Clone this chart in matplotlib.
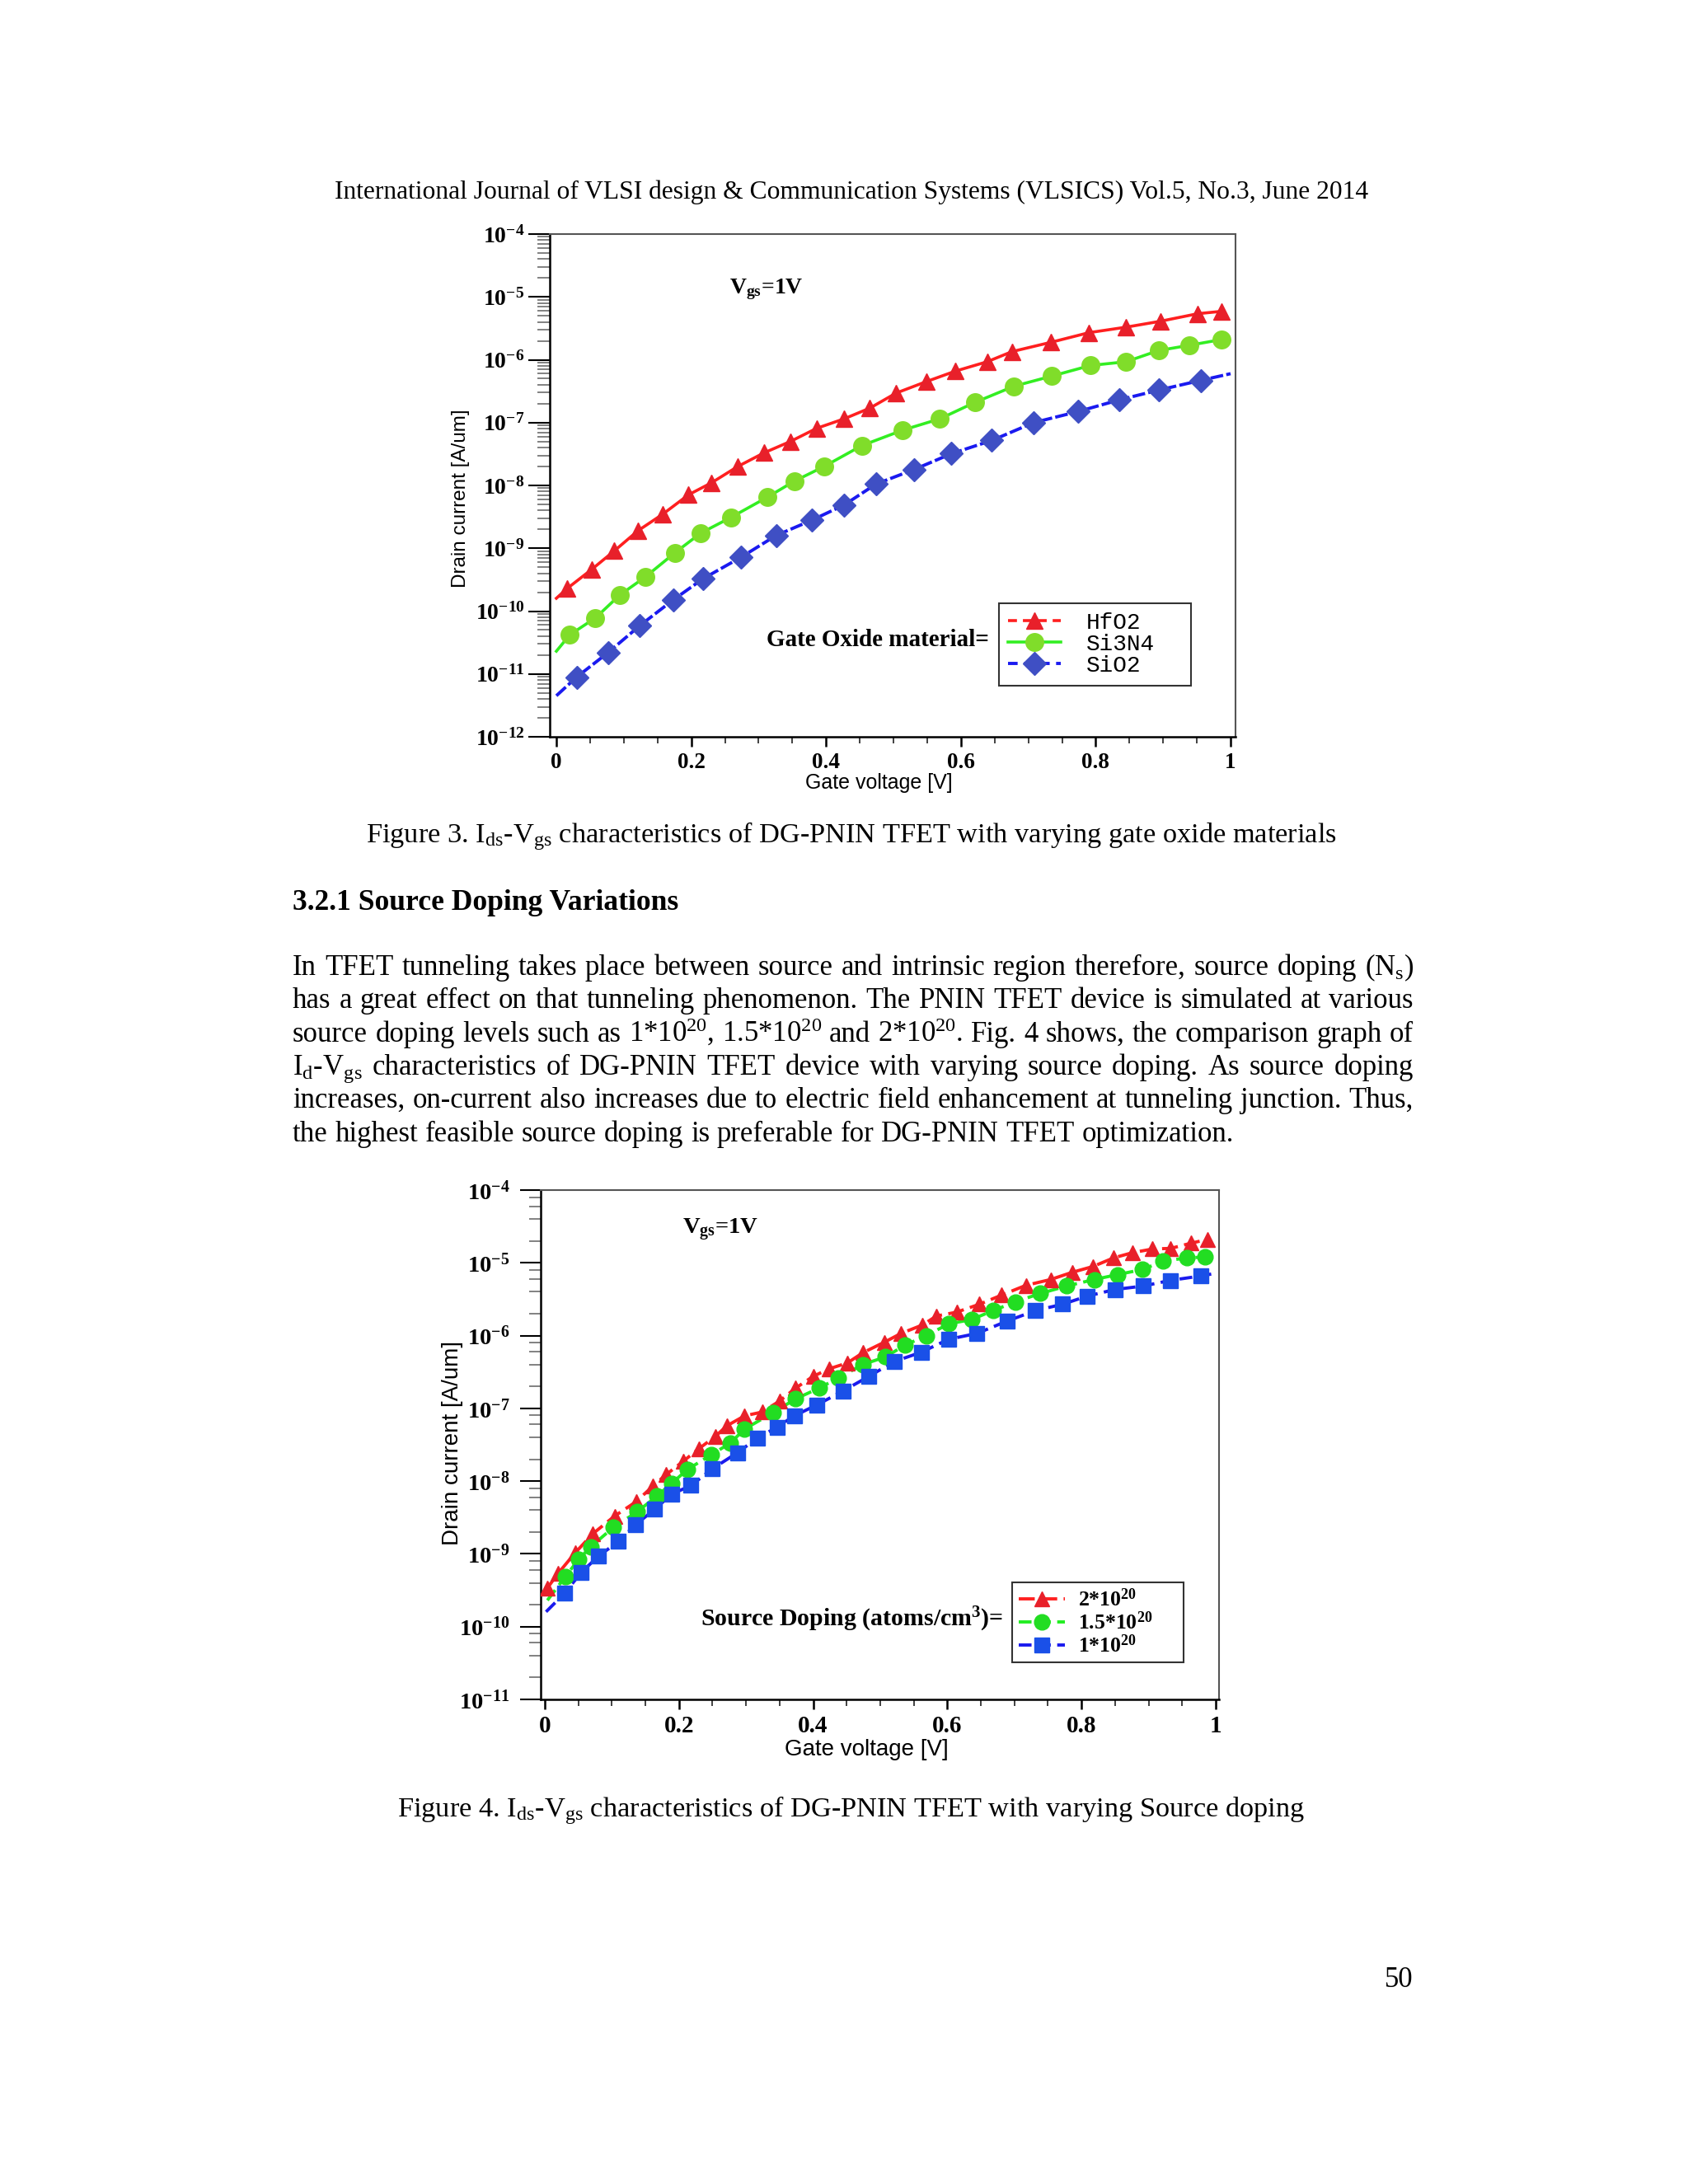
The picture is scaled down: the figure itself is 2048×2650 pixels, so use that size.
import numpy as np
import matplotlib
matplotlib.use('Agg')
import matplotlib.pyplot as plt
from matplotlib.lines import Line2D
from matplotlib.ticker import FixedLocator, FuncFormatter, LogLocator, NullFormatter

# ---------------- data: Figure 3 (gate oxide materials) ----------------
hfo2_vg = [0.016, 0.052, 0.086, 0.121, 0.158, 0.196, 0.230, 0.269, 0.308, 0.347, 0.386, 0.427,
           0.465, 0.504, 0.549, 0.592, 0.639, 0.676, 0.734, 0.790, 0.845, 0.896, 0.951, 0.987]
hfo2_id = [2.29e-10, 4.57e-10, 9.1e-10, 1.9e-9, 3.5e-9, 7.1e-9, 1.1e-8, 2.0e-8, 3.3e-8, 5.0e-8, 8.1e-8, 1.15e-7,
           1.7e-7, 2.95e-7, 4.5e-7, 6.6e-7, 9.3e-7, 1.35e-6, 1.9e-6, 2.7e-6, 3.3e-6, 4.1e-6, 5.4e-6, 5.9e-6]
hfo2_start = (0.0, 1.6e-10)

si3n4_vg = [0.020, 0.058, 0.094, 0.132, 0.176, 0.214, 0.259, 0.313, 0.353, 0.397, 0.453, 0.514,
            0.569, 0.621, 0.679, 0.735, 0.792, 0.845, 0.893, 0.939, 0.987]
si3n4_id = [4.2e-11, 7.8e-11, 1.8e-10, 3.5e-10, 8.5e-10, 1.74e-9, 3.1e-9, 6.5e-9, 1.17e-8, 2.0e-8, 4.3e-8, 7.6e-8,
            1.15e-7, 2.1e-7, 3.8e-7, 5.5e-7, 8.1e-7, 9.3e-7, 1.4e-6, 1.7e-6, 2.1e-6]
si3n4_start = (0.0, 2.3e-11)

sio2_vg = [0.030, 0.077, 0.124, 0.173, 0.218, 0.274, 0.326, 0.379, 0.427, 0.474, 0.531, 0.586,
           0.646, 0.708, 0.774, 0.835, 0.894, 0.956]
sio2_id = [8.9e-12, 2.2e-11, 5.9e-11, 1.5e-10, 3.3e-10, 7.2e-10, 1.6e-9, 2.8e-9, 4.9e-9, 1.05e-8, 1.8e-8, 3.2e-8,
           5.2e-8, 1.0e-7, 1.5e-7, 2.3e-7, 3.3e-7, 4.7e-7]
sio2_start = (0.0, 4.5e-12)
sio2_end = (1.0, 6.0e-7)

oxide_labels = ['HfO2', 'Si3N4', 'SiO2']

# ---------------- data: Figure 4 (source doping) ----------------
d2_vg = [0.004, 0.020, 0.046, 0.072, 0.104, 0.136, 0.161, 0.181, 0.206, 0.230, 0.254, 0.272, 0.298,
         0.324, 0.350, 0.374, 0.400, 0.424, 0.451, 0.474, 0.506, 0.531, 0.563, 0.584, 0.614, 0.648,
         0.681, 0.717, 0.754, 0.786, 0.817, 0.848, 0.876, 0.906, 0.933, 0.963, 0.988]
d2_id = [3.4e-10, 5.4e-10, 1.05e-9, 1.9e-9, 3.3e-9, 5.2e-9, 8.5e-9, 1.23e-8, 1.86e-8, 2.8e-8, 4.1e-8, 5.8e-8, 7.9e-8,
         8.9e-8, 1.26e-7, 1.9e-7, 2.75e-7, 3.5e-7, 4.2e-7, 5.8e-7, 8.1e-7, 1.07e-6, 1.4e-6, 1.86e-6, 2.1e-6, 2.7e-6,
         3.6e-6, 4.9e-6, 5.9e-6, 7.4e-6, 8.9e-6, 1.17e-5, 1.38e-5, 1.55e-5, 1.58e-5, 1.86e-5, 2.1e-5]

d15_vg = [0.031, 0.051, 0.069, 0.102, 0.138, 0.167, 0.189, 0.213, 0.248, 0.276, 0.298, 0.340, 0.374,
          0.409, 0.437, 0.474, 0.508, 0.537, 0.569, 0.602, 0.636, 0.668, 0.701, 0.739, 0.778, 0.819,
          0.854, 0.891, 0.921, 0.957, 0.984]
d15_id = [4.9e-10, 8.5e-10, 1.26e-9, 2.3e-9, 3.8e-9, 6.2e-9, 9.3e-9, 1.45e-8, 2.3e-8, 3.3e-8, 5.2e-8, 8.7e-8, 1.35e-7,
          1.9e-7, 2.6e-7, 4.0e-7, 5.1e-7, 7.4e-7, 1.0e-6, 1.45e-6, 1.66e-6, 2.2e-6, 2.9e-6, 3.8e-6, 4.8e-6, 5.9e-6,
          6.9e-6, 8.1e-6, 1.05e-5, 1.17e-5, 1.2e-5]
d15_start = (0.004, 2.3e-10)

d1_vg = [0.030, 0.054, 0.080, 0.110, 0.135, 0.164, 0.189, 0.218, 0.250, 0.287, 0.317, 0.346, 0.372,
         0.406, 0.445, 0.483, 0.521, 0.561, 0.602, 0.644, 0.689, 0.731, 0.772, 0.809, 0.850, 0.892,
         0.933, 0.978]
d1_id = [2.9e-10, 5.5e-10, 9.3e-10, 1.48e-9, 2.5e-9, 4.1e-9, 6.6e-9, 8.7e-9, 1.48e-8, 2.45e-8, 3.9e-8, 5.5e-8, 7.9e-8,
         1.12e-7, 1.74e-7, 2.75e-7, 4.4e-7, 5.9e-7, 8.9e-7, 1.07e-6, 1.58e-6, 2.2e-6, 2.7e-6, 3.5e-6, 4.3e-6, 4.8e-6,
         5.75e-6, 6.6e-6]
d1_start = (0.002, 1.6e-10)
d1_end = (1.0, 7.2e-6)

doping_labels = [r'2*10$^\mathbf{20}$', r'1.5*10$^\mathbf{20}$', r'1*10$^\mathbf{20}$']

x_major = [0, 0.2, 0.4, 0.6, 0.8, 1.0]

# ---------------- page text ----------------
header = "International Journal of VLSI design & Communication Systems (VLSICS) Vol.5, No.3, June 2014"
caption3 = r"Figure 3. I$_\mathrm{ds}$-V$_\mathrm{gs}$ characteristics of DG-PNIN TFET with varying gate oxide materials"
heading = "3.2.1 Source Doping Variations"
para = [
    r"In TFET tunneling takes place between source and intrinsic region therefore, source doping (N$_\mathrm{s}$)",
    r"has a great effect on that tunneling phenomenon. The PNIN TFET device is simulated at various",
    r"source doping levels such as 1*10$^\mathrm{20}$, 1.5*10$^\mathrm{20}$ and 2*10$^\mathrm{20}$. Fig. 4 shows, the comparison graph of",
    r"I$_\mathrm{d}$-V$_\mathrm{gs}$ characteristics of DG-PNIN TFET device with varying source doping. As source doping",
    r"increases, on-current also increases due to electric field enhancement at tunneling junction. Thus,",
    r"the highest feasible source doping is preferable for DG-PNIN TFET optimization.",
]
caption4 = r"Figure 4. I$_\mathrm{ds}$-V$_\mathrm{gs}$ characteristics of DG-PNIN TFET with varying Source doping"
page_no = "50"

# ---------------- setup ----------------
W, H = 2048, 2650
plt.rcParams['font.family'] = ['Liberation Serif', 'DejaVu Serif']
plt.rcParams['mathtext.fontset'] = 'custom'
plt.rcParams['mathtext.rm'] = 'Liberation Serif'
plt.rcParams['mathtext.it'] = 'Liberation Serif:italic'
plt.rcParams['mathtext.bf'] = 'Liberation Serif:bold'

fig = plt.figure(figsize=(W / 100, H / 100), dpi=100, facecolor='white')
renderer = fig.canvas.get_renderer()


def fx(x):
    return x / W


def fy(y):
    return 1 - y / H


def axbox(x0, y0, x1, y1):
    return [x0 / W, 1 - y1 / H, (x1 - x0) / W, (y1 - y0) / H]


def twidth(s, **kw):
    t = fig.text(0, 0, s, **kw)
    w = t.get_window_extent(renderer).width
    t.remove()
    return w


def fit_size(s, target, **kw):
    return 20 * target / twidth(s, fontsize=20, **kw)


def center_line(s, xc, ybase, target, **kw):
    fs = fit_size(s, target, **kw)
    fig.text(fx(xc), fy(ybase), s, ha='center', va='baseline', fontsize=fs, **kw)
    return fs


def justified(line, x0, x1, ybase, justify, fs, **kw):
    words = line.split(' ')
    widths = [twidth(w, fontsize=fs, **kw) for w in words]
    if justify and len(words) > 1:
        gap = (x1 - x0 - sum(widths)) / (len(words) - 1)
    else:
        gap = 0.25 * fs * 100 / 72
    x = x0
    for w, wd in zip(words, widths):
        fig.text(fx(x), fy(ybase), w, ha='left', va='baseline', fontsize=fs, **kw)
        x += wd + gap


# page text
center_line(header, 1033, 241, 1256)
center_line(caption3, 1033, 1022, 1178)
hs = fit_size(heading, 467, fontweight='bold')
fig.text(fx(355), fy(1104), heading, ha='left', va='baseline', fontsize=hs, fontweight='bold')
body_fs = fit_size(para[-1], 1138)
bases = [1183, 1223, 1264, 1304, 1344, 1385]
for i, (ln, yb) in enumerate(zip(para, bases)):
    justified(ln, 355, 1715, yb, i < len(para) - 1, body_fs)
center_line(caption4, 1033, 2204, 1100)
fig.text(fx(1715), fy(2411), page_no, ha='right', va='baseline', fontsize=body_fs)


def style_axes(ax, xlim, ylim, decades, yfs, xfs, ymaj, ymin, ypad, xmaj, xmin, xpad, subs):
    ax.set_yscale('log')
    ax.set_xlim(*xlim)
    ax.set_ylim(*ylim)
    ax.yaxis.set_major_locator(FixedLocator(decades))
    ax.yaxis.set_major_formatter(FuncFormatter(lambda v, p: r'$\mathbf{10^{%d}}$' % int(round(np.log10(v)))))
    ax.yaxis.set_minor_locator(LogLocator(base=10, subs=subs, numticks=30))
    ax.yaxis.set_minor_formatter(NullFormatter())
    ax.xaxis.set_major_locator(FixedLocator(x_major))
    ax.xaxis.set_major_formatter(FuncFormatter(lambda v, p: '0' if abs(v) < 1e-9 else ('1' if abs(v - 1) < 1e-9 else '%.1f' % v)))
    ax.xaxis.set_minor_locator(FixedLocator(np.arange(0, 1.0001, 0.05)))
    ax.tick_params(axis='y', which='major', direction='out', length=ymaj, width=1.5, pad=ypad, labelsize=yfs, color='black')
    ax.tick_params(axis='y', which='minor', direction='out', length=ymin, width=1.3, color='#777777')
    ax.tick_params(axis='x', which='major', direction='out', length=xmaj, width=1.8, pad=xpad, labelsize=xfs, color='black')
    ax.tick_params(axis='x', which='minor', direction='out', length=xmin, width=1.3, color='#333333')
    for lab in ax.get_xticklabels():
        lab.set_fontweight('bold')
    ax.tick_params(right=False, top=False)
    for s in ['left', 'bottom']:
        ax.spines[s].set_color('black')
        ax.spines[s].set_linewidth(1.8)
    for s in ['top', 'right']:
        ax.spines[s].set_color('#555555')
        ax.spines[s].set_linewidth(1.5)


# ---------------- Figure 3 chart ----------------
ax1 = fig.add_axes(axbox(667, 284, 1499, 894))
style_axes(ax1, (-0.0098, 1.0073), (1e-12, 1e-4), [10.0 ** k for k in range(-12, -3)],
           20, 19.5, 19, 10.5, 3, 8.5, 6, 5, np.arange(2, 10))

c_red_l, c_red_m = '#ff1f1f', '#e8202a'
c_grn_l, c_grn_m = '#33ee22', '#80dd2a'
c_blu_l, c_blu_m = '#1a1af0', '#3f4fc4'
ms_tri1, ms_cir1, ms_dia1 = 15, 15.5, 14

ax1.plot(np.r_[hfo2_start[0], hfo2_vg], np.r_[hfo2_start[1], hfo2_id], color=c_red_l, lw=2.6, zorder=2)
ax1.plot(hfo2_vg, hfo2_id, ls='none', marker='^', ms=ms_tri1, color=c_red_m, zorder=3)
ax1.plot(np.r_[si3n4_start[0], si3n4_vg], np.r_[si3n4_start[1], si3n4_id], color=c_grn_l, lw=2.6, zorder=2)
ax1.plot(si3n4_vg, si3n4_id, ls='none', marker='o', ms=ms_cir1, color=c_grn_m, zorder=3)
ax1.plot(np.r_[sio2_start[0], sio2_vg, sio2_end[0]], np.r_[sio2_start[1], sio2_id, sio2_end[1]],
         color=c_blu_l, lw=2.8, dashes=(4, 1), zorder=2)
ax1.plot(sio2_vg, sio2_id, ls='none', marker='D', ms=ms_dia1, color=c_blu_m, zorder=3)

ax1.set_xlabel('Gate voltage [V]', family='Liberation Sans', fontsize=18)
ax1.set_ylabel('Drain current [A/um]', family='Liberation Sans', fontsize=17.5)
ax1.xaxis.set_label_coords(0.48, -0.072)
ax1.yaxis.set_label_coords(-0.1166, 0.475)
ax1.text(0.262, 0.89, r'V$_\mathbf{gs}$=1V', transform=ax1.transAxes, ha='left', va='center',
         fontsize=20, fontweight='bold')
ax1.text(0.641, 0.192, 'Gate Oxide material=', transform=ax1.transAxes, ha='right', va='center',
         fontsize=21, fontweight='bold')
h1 = [Line2D([], [], color=c_red_l, lw=2.6, dashes=(3, 2), marker='^', ms=ms_tri1, mfc=c_red_m, mec=c_red_m),
      Line2D([], [], color=c_grn_l, lw=2.6, marker='o', ms=ms_cir1, mfc=c_grn_m, mec=c_grn_m),
      Line2D([], [], color=c_blu_l, lw=2.8, dashes=(3, 2), marker='D', ms=ms_dia1, mfc=c_blu_m, mec=c_blu_m)]
leg1 = ax1.legend(h1, oxide_labels, loc='upper left', bbox_to_anchor=(0.655, 0.108, 0.28, 0.158), mode='expand',
                  borderaxespad=0, prop={'family': 'Liberation Mono', 'size': 20}, frameon=True, fancybox=False,
                  edgecolor='#333333', framealpha=1, handlelength=2.3, handletextpad=1.1,
                  labelspacing=0.0, borderpad=0.4)
leg1.get_frame().set_linewidth(1.5)

# ---------------- Figure 4 chart ----------------
ax2 = fig.add_axes(axbox(656, 1444, 1479, 2062))
style_axes(ax2, (-0.006, 1.005), (1e-11, 1e-4), [10.0 ** k for k in range(-11, -3)],
           20.5, 21, 18, 10, 9, 8.5, 6, 5, (2, 4, 6, 8))

d_red_l, d_red_m = '#ff2020', '#e8202a'
d_grn_l, d_grn_m = '#22ee22', '#22dd22'
d_blu_l, d_blu_m = '#1a1aee', '#1a50e8'
ms_tri2, ms_cir2, ms_sq2 = 13, 13.5, 12.5

ax2.plot(d2_vg, d2_id, color=d_red_l, lw=2.8, dashes=(5, 2), zorder=2)
ax2.plot(d2_vg, d2_id, ls='none', marker='^', ms=ms_tri2, color=d_red_m, zorder=3)
ax2.plot(np.r_[d15_start[0], d15_vg], np.r_[d15_start[1], d15_id], color=d_grn_l, lw=2.8, dashes=(4, 2), zorder=2)
ax2.plot(d15_vg, d15_id, ls='none', marker='o', ms=ms_cir2, color=d_grn_m, zorder=3)
ax2.plot(np.r_[d1_start[0], d1_vg, d1_end[0]], np.r_[d1_start[1], d1_id, d1_end[1]],
         color=d_blu_l, lw=2.8, dashes=(4, 2), zorder=2)
ax2.plot(d1_vg, d1_id, ls='none', marker='s', ms=ms_sq2, color=d_blu_m, zorder=3)

ax2.set_xlabel('Gate voltage [V]', family='Liberation Sans', fontsize=20)
ax2.set_ylabel('Drain current [A/um]', family='Liberation Sans', fontsize=20)
ax2.xaxis.set_label_coords(0.481, -0.077)
ax2.yaxis.set_label_coords(-0.114, 0.503)
ax2.text(0.209, 0.922, r'V$_\mathbf{gs}$=1V', transform=ax2.transAxes, ha='left', va='center',
         fontsize=20.5, fontweight='bold')
ax2.text(0.682, 0.157, r'Source Doping (atoms/cm$^\mathbf{3}$)=', transform=ax2.transAxes, ha='right',
         va='center', fontsize=21.5, fontweight='bold')
h2 = [Line2D([], [], color=d_red_l, lw=2.8, dashes=(5, 2), marker='^', ms=ms_tri2, mfc=d_red_m, mec=d_red_m),
      Line2D([], [], color=d_grn_l, lw=2.8, dashes=(4, 2), marker='o', ms=ms_cir2, mfc=d_grn_m, mec=d_grn_m),
      Line2D([], [], color=d_blu_l, lw=2.8, dashes=(4, 2), marker='s', ms=ms_sq2, mfc=d_blu_m, mec=d_blu_m)]
leg2 = ax2.legend(h2, doping_labels, loc='upper left', bbox_to_anchor=(0.695, 0.078, 0.253, 0.152), mode='expand',
                  borderaxespad=0, prop={'family': 'Liberation Serif', 'size': 18.5, 'weight': 'bold'},
                  frameon=True, fancybox=False, edgecolor='#333333', framealpha=1, handlelength=2.2,
                  handletextpad=0.6, labelspacing=0.05, borderpad=0.3)
leg2.get_frame().set_linewidth(1.5)

fig.savefig('out.png', dpi=100, facecolor='white')
